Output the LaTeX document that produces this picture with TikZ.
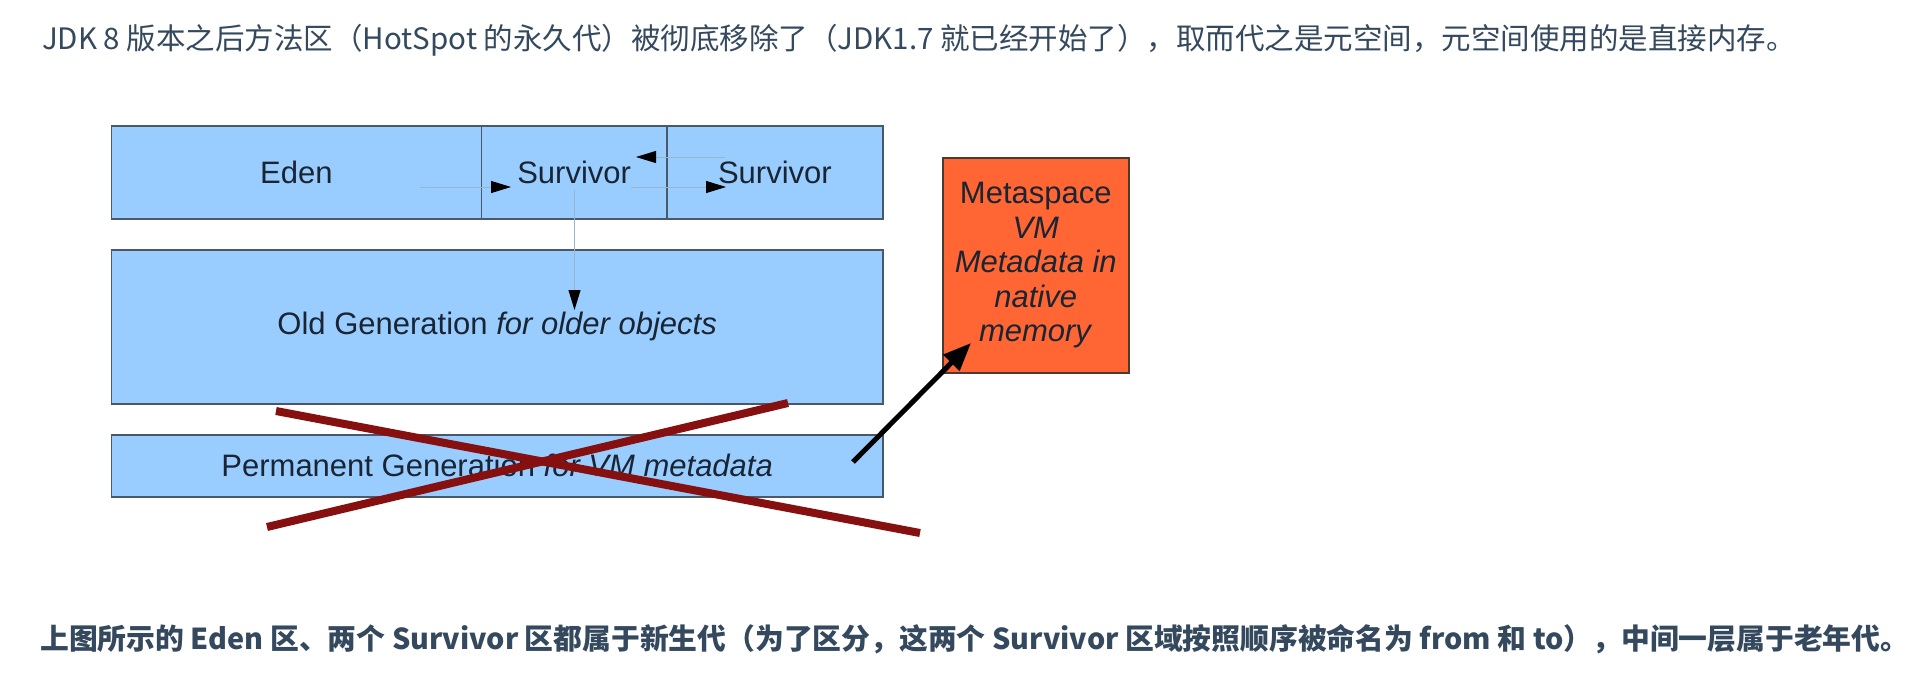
\documentclass[tikz,border=0pt]{standalone}
\usepackage{fontspec}
\setmainfont{Liberation Sans}
\newfontfamily\cjk{Noto Sans CJK SC}
\usetikzlibrary{arrows.meta}
\definecolor{txt}{HTML}{34495E}
\definecolor{boxblue}{HTML}{99CCFF}
\definecolor{boxline}{HTML}{4A5868}
\definecolor{metafill}{HTML}{FF6633}
\definecolor{metaline}{HTML}{4A3A30}
\definecolor{xred}{HTML}{860F0F}
\definecolor{thinline}{HTML}{9AB4CC}
\definecolor{dtext}{HTML}{1A2533}
\begin{document}
\begin{tikzpicture}[x=1pt,y=-1pt,
  area/.style={draw=boxline, line width=1.8pt, fill=boxblue, anchor=north west, inner sep=0pt},
  lbl/.style={font=\fontsize{31}{34.5}\selectfont, text=dtext, inner sep=0pt},
  flow/.style={draw=thinline, line width=1pt, -{Triangle[length=20pt,width=12pt,color=black]}},
  cross/.style={draw=xred, line width=8pt},
  bigarrow/.style={draw=black, line width=5pt, -{Triangle[length=28pt,width=22pt]}},
  para/.style={anchor=base west, inner sep=0pt, text=txt}]
\useasboundingbox (0,0) rectangle (1926,678);
\fill[white] (0,0) rectangle (1926,678);

% header
\node[para, font=\cjk\fontsize{29.5}{30}\selectfont] (head) at (42,49.4)
  {JDK 8 版本之后方法区（HotSpot 的永久代）被彻底移除了（JDK1.7 就已经开始了），取而代之是元空间，元空间使用的是直接内存。};

% young generation row
\node[area, minimum width=370pt, minimum height=93pt] (eden) at (110.5,125) {};
\node[area, minimum width=185.5pt, minimum height=93pt] (s1) at (480.5,125) {};
\node[area, minimum width=216pt, minimum height=93pt] (s2) at (666,125) {};
\node[lbl] (edent) at (eden.center) {Eden};
\node[lbl] (s1t) at (s1.center) {Survivor};
\node[lbl] (s2t) at (s2.center) {Survivor};

% old generation
\node[area, minimum width=771.5pt, minimum height=154pt] (old) at (110.5,249) {};
\node[lbl] (oldt) at (old.center) {Old Generation \textit{for older objects}};

% permanent generation
\node[area, minimum width=771.5pt, minimum height=62pt] (perm) at (110.5,434) {};
\node[lbl] (permt) at (perm.center) {Permanent Generation \textit{for VM metadata}};

% metaspace
\node[draw=metaline, line width=1.5pt, fill=metafill, anchor=north west, inner sep=0pt,
      minimum width=186pt, minimum height=215pt] (meta) at (942,157) {};
\node[lbl, align=center] (metat) at (meta.center)
  {Metaspace\\\textit{VM}\\\textit{Metadata in}\\\textit{native}\\\textit{memory}};

% internal flows
\coordinate (a1s) at (420,187);
\coordinate (a1e) at (511,187);
\coordinate (a2s) at (725,157);
\coordinate (a2e) at (636,157);
\coordinate (a3s) at (631,187);
\coordinate (a3e) at (726,187);
\coordinate (a4s) at (574.5,190);
\coordinate (a4e) at (574.5,310);
\draw[flow] (a1s) -- (a1e);
\draw[flow] (a2s) -- (a2e);
\draw[flow] (a3s) -- (a3e);
\draw[flow] (a4s) -- (a4e);

% red cross
\coordinate (xa1) at (276,411);
\coordinate (xa2) at (920,533);
\coordinate (xb1) at (788,403);
\coordinate (xb2) at (267,527);
\draw[cross] (xa1) -- (xa2);
\draw[cross] (xb1) -- (xb2);

% move to metaspace
\coordinate (pg) at (853,462);
\coordinate (mt) at (971,343);
\draw[bigarrow] (pg) -- (mt);

% footer
\node[para, font=\cjk\bfseries\fontsize{28.8}{30}\selectfont] (foot) at (40,649)
  {上图所示的 Eden 区、两个 Survivor 区都属于新生代（为了区分，这两个 Survivor 区域按照顺序被命名为 from 和 to），中间一层属于老年代。};
\end{tikzpicture}
\end{document}
